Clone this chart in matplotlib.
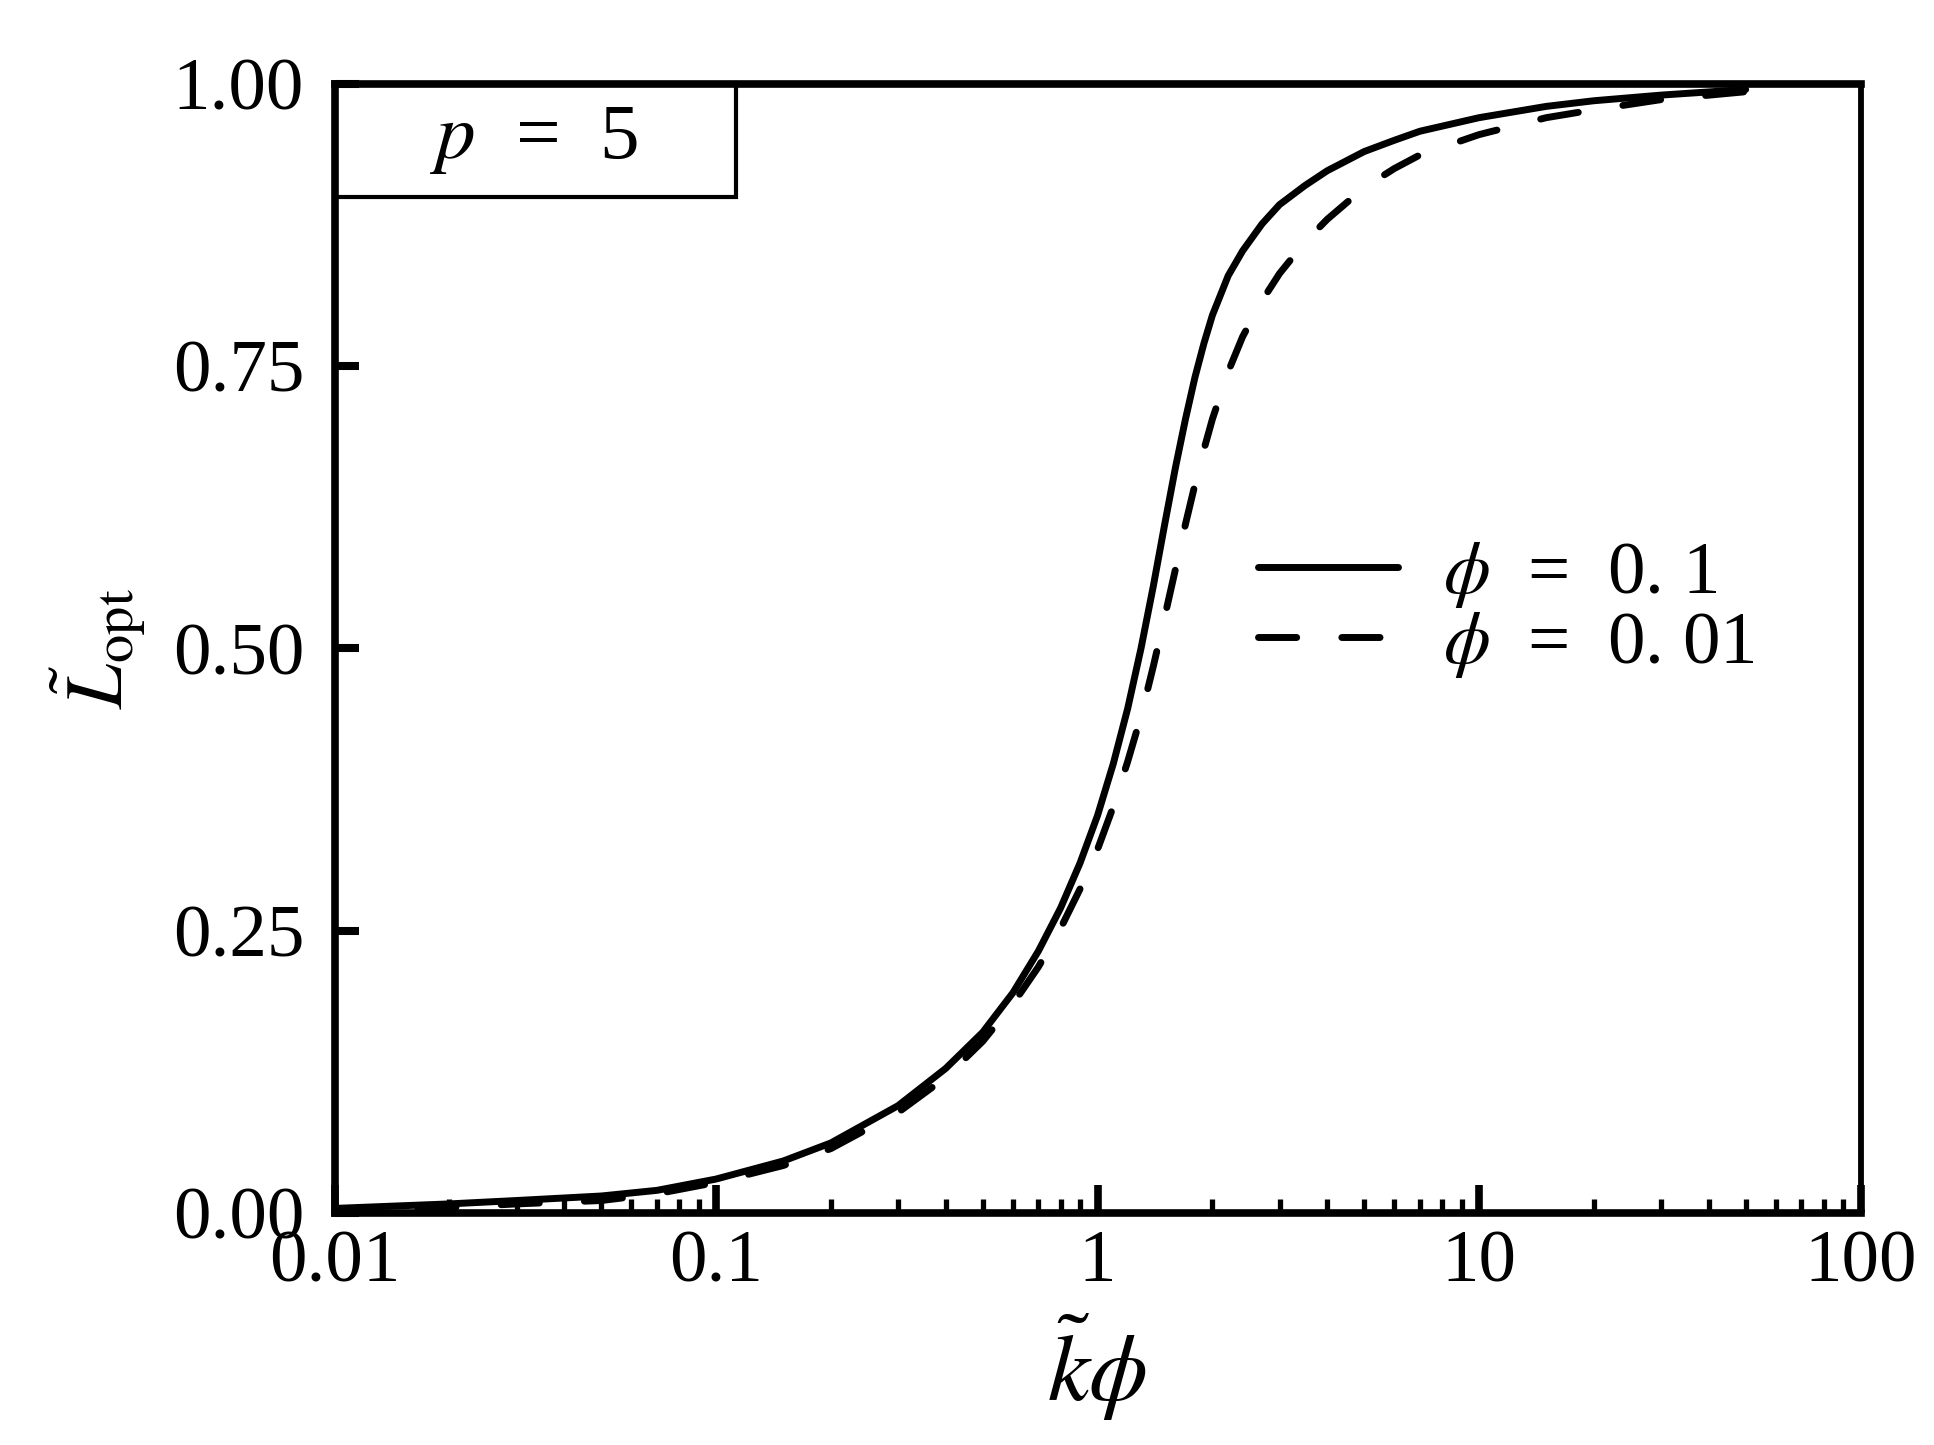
import numpy as np
import matplotlib
matplotlib.use('Agg')
import matplotlib.pyplot as plt
from matplotlib.patches import Rectangle
from matplotlib.ticker import LogLocator, NullFormatter, FixedLocator, FixedFormatter

# Dades llegides del gràfic
k_phi = [0.01, 0.02, 0.03, 0.05, 0.07, 0.1, 0.15, 0.2, 0.3, 0.4, 0.5, 0.6,
         0.7, 0.8, 0.9, 1.0, 1.1, 1.2, 1.3, 1.4, 1.5, 1.6, 1.7, 1.8, 1.9,
         2.0, 2.2, 2.4, 2.7, 3.0, 3.5, 4.0, 5.0, 6.0, 7.0, 10, 15, 20, 30, 50]
L_phi_01 = [0.004, 0.008, 0.011, 0.015, 0.020, 0.030, 0.046, 0.062, 0.095,
            0.128, 0.160, 0.195, 0.232, 0.270, 0.310, 0.352, 0.398, 0.447,
            0.500, 0.555, 0.610, 0.660, 0.703, 0.740, 0.770, 0.795, 0.830,
            0.852, 0.876, 0.893, 0.910, 0.923, 0.940, 0.950, 0.958, 0.970,
            0.980, 0.985, 0.990, 0.995]
L_phi_001 = [0.002, 0.005, 0.008, 0.011, 0.017, 0.027, 0.042, 0.057, 0.089,
             0.120, 0.152, 0.185, 0.218, 0.252, 0.287, 0.322, 0.360, 0.400,
             0.440, 0.484, 0.528, 0.570, 0.610, 0.645, 0.676, 0.703, 0.745,
             0.776, 0.808, 0.832, 0.860, 0.880, 0.908, 0.925, 0.937, 0.955,
             0.970, 0.977, 0.986, 0.993]

x_ticks = [0.01, 0.1, 1, 10, 100]
x_tick_labels = ['0.01', '0.1', '1', '10', '100']
y_ticks = [0.0, 0.25, 0.5, 0.75, 1.0]
y_tick_labels = ['0.00', '0.25', '0.50', '0.75', '1.00']
labels = ['$\\phi$  =  0. 1', '$\\phi$  =  0. 01']

plt.rcParams['font.family'] = ['Liberation Serif', 'DejaVu Serif']
plt.rcParams['mathtext.fontset'] = 'stix'

fig = plt.figure(figsize=(19.34, 14.45), dpi=100)
ax = fig.add_axes([0.173, 0.1606, 0.789, 0.7814])

ax.plot(k_phi, L_phi_01, color='black', lw=5, solid_capstyle='round',
        solid_joinstyle='round', label=labels[0])
ax.plot(k_phi, L_phi_001, color='black', lw=5, dashes=(5.5, 6.5),
        dash_capstyle='round', label=labels[1])

ax.set_xscale('log')
ax.set_xlim(0.01, 100)
ax.set_ylim(0, 1)

ax.xaxis.set_major_locator(FixedLocator(x_ticks))
ax.xaxis.set_major_formatter(FixedFormatter(x_tick_labels))
ax.xaxis.set_minor_locator(LogLocator(base=10, subs=np.arange(2, 10)))
ax.xaxis.set_minor_formatter(NullFormatter())
ax.yaxis.set_major_locator(FixedLocator(y_ticks))
ax.yaxis.set_major_formatter(FixedFormatter(y_tick_labels))

ax.tick_params(axis='x', which='major', direction='in', length=20, width=5.5,
               labelsize=54, pad=12, top=False)
ax.tick_params(axis='x', which='minor', direction='in', length=10, width=3.8,
               top=False)
ax.tick_params(axis='y', which='major', direction='in', length=17, width=5.8,
               labelsize=54, pad=22, right=False)

for side in ['left', 'top', 'bottom']:
    ax.spines[side].set_linewidth(5.5)
ax.spines['right'].set_linewidth(4.2)

ax.set_xlabel('$\\tilde{k}\\phi$', fontsize=68, labelpad=10)
ax.set_ylabel('$\\tilde{L}_{\\rm opt}$', fontsize=58, labelpad=18)

# Caixa amb p = 5
ax.add_patch(Rectangle((0, 0.9), 0.263, 0.1, transform=ax.transAxes,
                       fill=False, lw=3, edgecolor='black', clip_on=False))
ax.text(0.131, 0.95, '$p$  =  5', transform=ax.transAxes, fontsize=57,
        ha='center', va='center')

ax.legend(loc='center left', bbox_to_anchor=(0.605, 0.534), frameon=False,
          fontsize=54, handlelength=1.87, handletextpad=0.6, labelspacing=0.0,
          borderpad=0, borderaxespad=0)

fig.savefig('out.png', dpi=100)
